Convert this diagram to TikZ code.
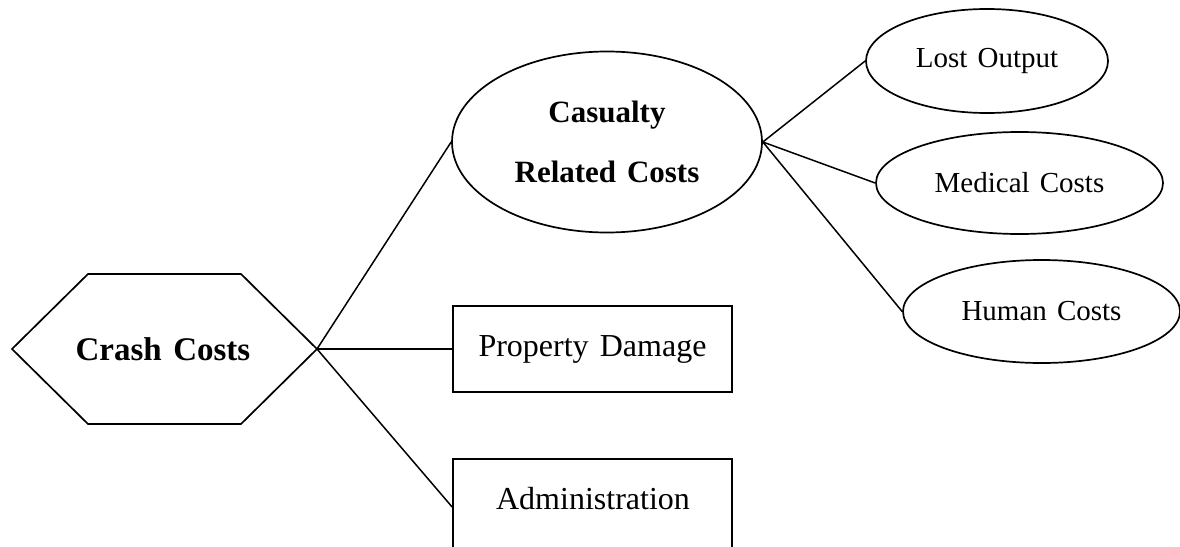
\documentclass[tikz,border=0pt]{standalone}
\usepackage{fontspec}
\setmainfont{Liberation Serif}[WordSpace=1.4]
\usetikzlibrary{shapes.geometric}
\tikzset{
  shape line/.style={draw=black, line width=1.7pt},
  conn/.style={draw=black, line width=1.5pt},
  oval/.style={shape line, ellipse, inner sep=0pt},
  boxnode/.style={shape line, rectangle, inner sep=0pt},
  bigbold/.style={font=\fontsize{33}{36}\selectfont\bfseries},
  midbold/.style={font=\fontsize{31}{60}\selectfont\bfseries, align=center},
  boxtext/.style={font=\fontsize{32}{36}\selectfont},
  smalltext/.style={font=\fontsize{29}{32}\selectfont},
}
\begin{document}
\begin{tikzpicture}[x=1pt, y=-1pt]
\useasboundingbox (0,0) rectangle (1180,546);
% hexagon
\draw[shape line] (12,349) -- (88,274) -- (241,274) -- (317,349) -- (241,424) -- (88,424) -- cycle;
\coordinate (crashR) at (317,349);
\node[bigbold] (crash) at (163,349) {Crash Costs};
% casualty
\node[oval, minimum width=310, minimum height=181, midbold] (cas) at (607,142) {Casualty\\Related Costs};
% boxes
\node[boxnode, minimum width=279, minimum height=86, boxtext] (prop) at (592.5,349) {Property Damage};
\node[boxnode, minimum width=279, minimum height=96] (admin) at (592.5,507) {};
\node[boxtext] (admintext) at (593,499) {Administration};
% sub ellipses
\node[oval, minimum width=242, minimum height=104, smalltext] (lost) at (987,61) {Lost Output};
\node[oval, minimum width=287, minimum height=102, smalltext] (med) at (1019.5,183) {Medical Costs};
\node[oval, minimum width=277, minimum height=103, smalltext] (hum) at (1041.5,311.5) {Human Costs};
% connectors
\draw[conn] (crashR) -- (cas.west);
\draw[conn] (crashR) -- (prop.west);
\draw[conn] (crashR) -- (admin.west);
\draw[conn] (cas.east) -- (lost.west);
\draw[conn] (cas.east) -- (med.west);
\draw[conn] (cas.east) -- (hum.west);
\end{tikzpicture}
\end{document}
